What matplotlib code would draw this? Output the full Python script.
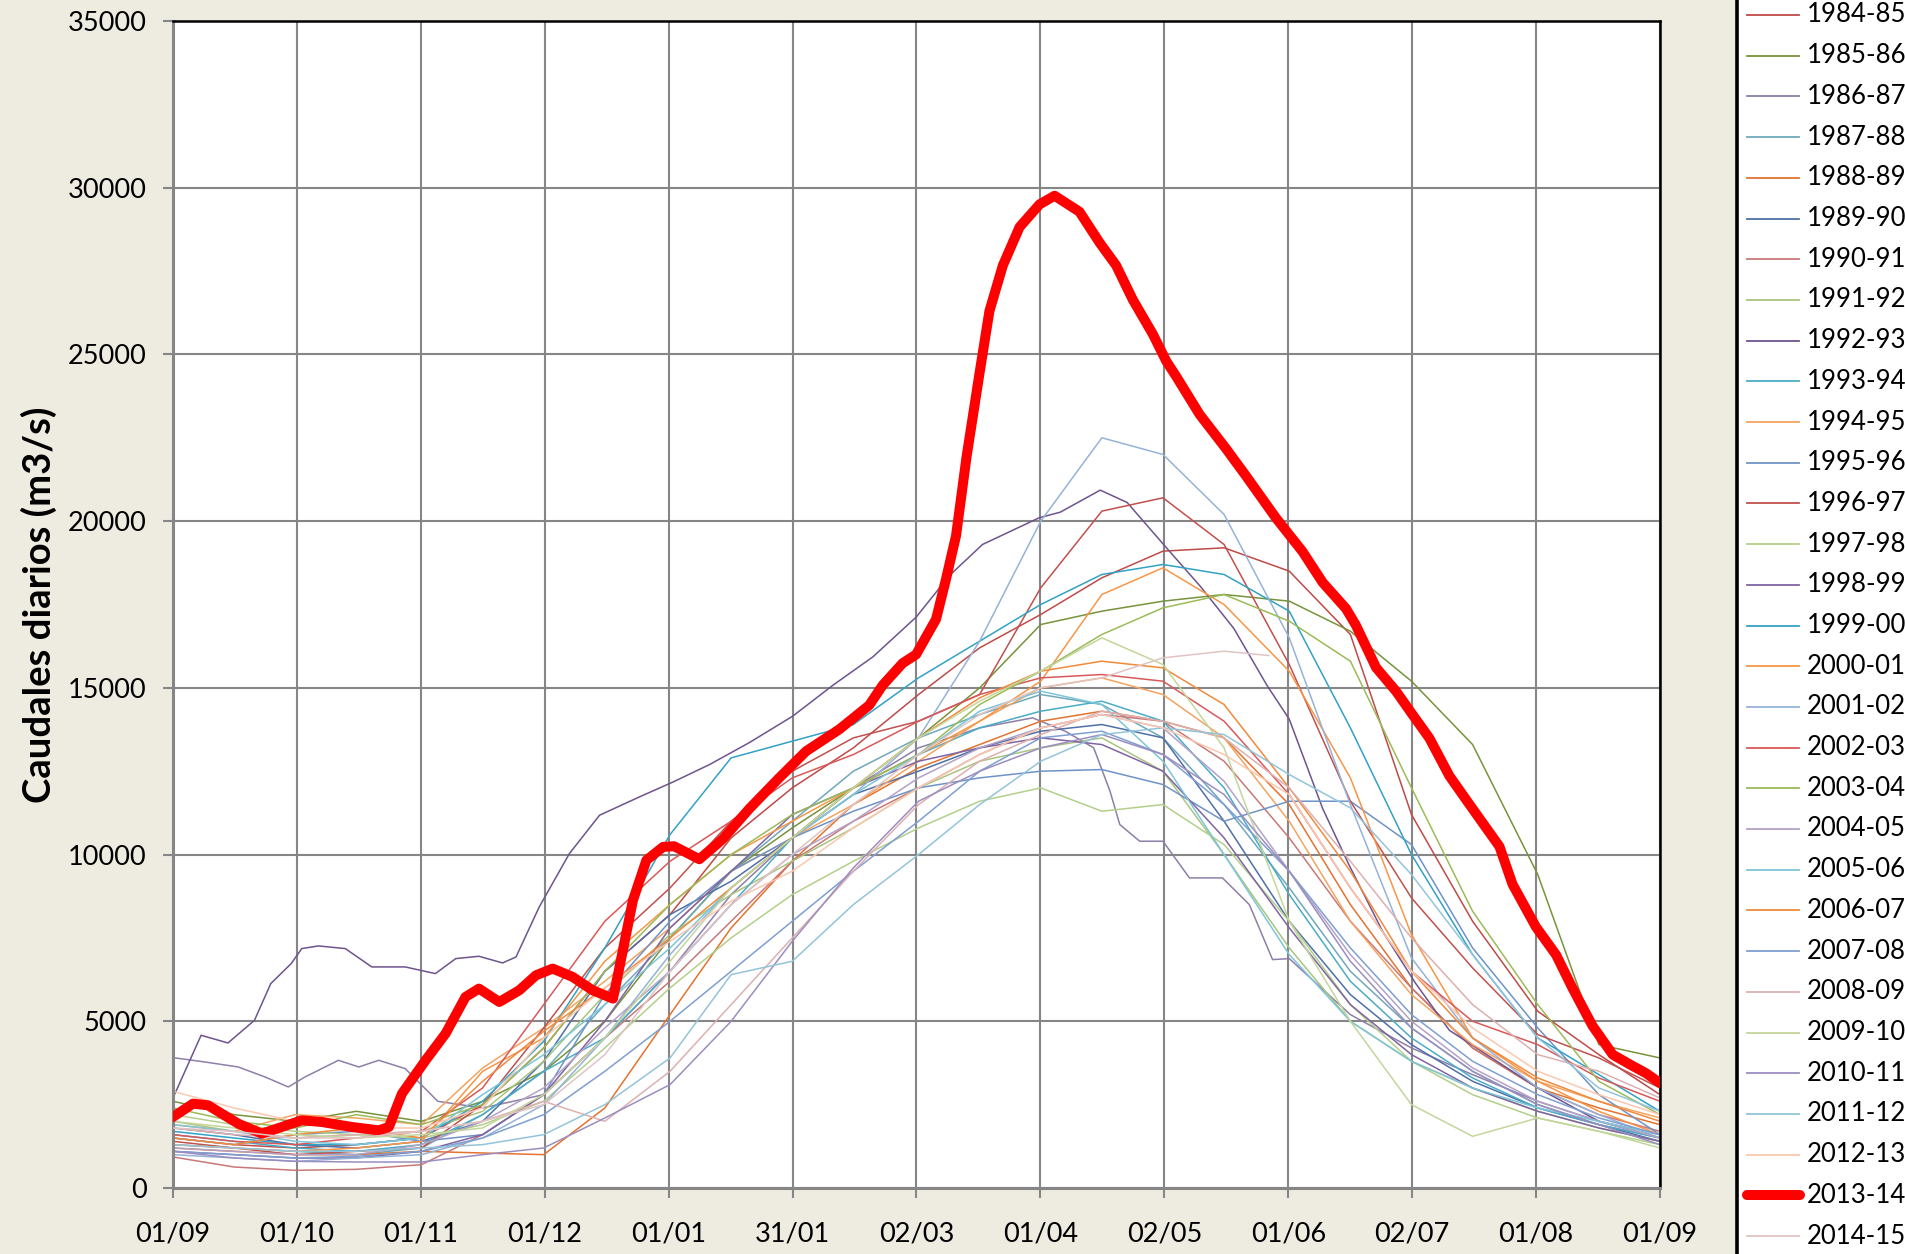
import numpy as np
import matplotlib
matplotlib.use("Agg")
import matplotlib.pyplot as plt

# Caudales diarios por año hidrológico (m3/s)
dias = [0, 15, 30, 45, 61, 76, 91, 106, 122, 137, 152, 167, 183, 198, 213, 228, 243, 258, 274, 289, 304, 319, 335, 350, 365]

q_1984_85 = [1500, 1300, 1200, 1300, 1500, 2500, 4200, 6500, 8200, 10500, 12000, 13200, 14800, 16200, 17200, 18300, 19100, 19200, 18500, 16600, 11200, 8000, 5300, 4000, 2800]
q_1985_86 = [2600, 2200, 2000, 2300, 2000, 2600, 3500, 5000, 7500, 9500, 10800, 12000, 13500, 15000, 16900, 17300, 17600, 17800, 17600, 16700, 15200, 13300, 9400, 4300, 3900]
q_1987_88 = [1300, 1200, 1100, 1000, 1200, 2200, 3500, 5500, 7500, 9500, 11000, 12500, 13500, 14200, 14800, 14500, 13500, 11500, 9000, 6500, 4800, 3500, 2500, 1900, 1500]
q_1988_89 = [1200, 1100, 1000, 1000, 1100, 1050, 1000, 2400, 5200, 7800, 9800, 11500, 12600, 13300, 14000, 14300, 14000, 13500, 11500, 8500, 6000, 4200, 3000, 2400, 1900]
q_1989_90 = [1800, 1600, 1300, 1200, 1400, 2000, 3800, 6500, 8200, 9200, 10500, 11800, 12500, 13200, 13700, 13900, 13500, 11000, 8000, 5800, 4300, 3200, 2400, 1900, 1400]
q_1990_91 = [930, 630, 530, 560, 700, 1600, 2800, 4500, 6200, 8000, 9800, 11000, 12000, 13000, 13800, 14200, 14000, 12800, 10500, 8000, 6000, 4200, 3000, 2200, 1700]
q_1991_92 = [2000, 1700, 1500, 1600, 1700, 2300, 3800, 5800, 7600, 8800, 9800, 10800, 12000, 12800, 13200, 13500, 12500, 10000, 7200, 5000, 3800, 3000, 2300, 1800, 1400]
q_1993_94 = [1600, 1400, 1200, 1100, 1300, 2200, 3500, 4500, 6500, 8500, 10500, 12000, 13000, 13800, 14300, 14600, 14000, 12000, 8800, 6200, 4500, 3300, 2400, 1900, 1500]
q_1994_95 = [1900, 1700, 2200, 2100, 1900, 3600, 4800, 6200, 7800, 9500, 10500, 11500, 12800, 14000, 15000, 15300, 14800, 13500, 11000, 8000, 5800, 4300, 3200, 2600, 2100]
q_1995_96 = [1500, 1300, 1600, 1700, 1400, 1600, 2800, 5800, 8000, 9500, 10500, 11300, 12000, 12300, 12500, 12550, 12100, 11000, 11600, 11600, 10300, 7200, 4800, 2800, 1600]
q_1996_97 = [1400, 1200, 1000, 1100, 1200, 2500, 4800, 7200, 9000, 11000, 12500, 13500, 14000, 14800, 18000, 20300, 20700, 19300, 15700, 11600, 8700, 6600, 4600, 3900, 3000]
q_1997_98 = [2200, 1900, 1700, 1600, 1500, 1900, 2600, 4200, 6000, 7500, 8800, 9800, 10800, 11600, 12000, 11300, 11500, 10300, 8000, 5500, 3800, 2800, 2100, 1700, 1300]
q_1998_99 = [1100, 1000, 900, 900, 1100, 1600, 2800, 5000, 7800, 9500, 11200, 12000, 12800, 13200, 13500, 13300, 12500, 10500, 7800, 5500, 4000, 3000, 2300, 1800, 1400]
q_1999_00 = [1700, 1500, 1300, 1300, 1500, 2600, 4400, 7200, 10600, 12900, 13400, 13900, 15300, 16400, 17500, 18400, 18700, 18400, 17300, 13800, 10000, 7000, 4500, 3400, 2300]
q_2000_01 = [1300, 1200, 1100, 1200, 1400, 3500, 4500, 6800, 8500, 10000, 11000, 12000, 13000, 14000, 15200, 17800, 18600, 17500, 15500, 12300, 7600, 4500, 3200, 2300, 1600]
q_2001_02 = [1000, 900, 800, 900, 1000, 1500, 2500, 4500, 7000, 9000, 10500, 11800, 13500, 16400, 20000, 22500, 22000, 20200, 16500, 11500, 6900, 4500, 3000, 2200, 1500]
q_2002_03 = [1600, 1400, 1300, 1500, 1700, 3000, 5500, 8000, 9800, 11000, 12300, 13000, 14000, 14800, 15300, 15400, 15200, 14000, 11800, 9000, 6500, 5000, 4300, 3300, 2600]
q_2003_04 = [2400, 2000, 1800, 2200, 1900, 2500, 4200, 6500, 8500, 10000, 11200, 12000, 13000, 14500, 15500, 16600, 17400, 17800, 17000, 15800, 12000, 8300, 5500, 3200, 2200]
q_2004_05 = [1200, 1100, 1000, 1000, 1300, 2000, 3000, 4800, 6500, 8500, 10000, 11000, 12300, 13200, 13800, 14200, 13800, 12200, 9500, 7000, 5000, 3600, 2600, 2000, 1500]
q_2005_06 = [1900, 1700, 1400, 1300, 1500, 2800, 4000, 5500, 7200, 9000, 10500, 11800, 13000, 14300, 14900, 14500, 12800, 10000, 7000, 5000, 3800, 3000, 2400, 2000, 1600]
q_2006_07 = [1500, 1300, 1600, 1800, 1500, 3200, 4700, 6000, 7500, 9000, 10500, 12000, 13500, 14700, 15500, 15800, 15600, 14500, 12000, 9500, 6500, 4500, 3300, 2600, 2000]
q_2007_08 = [1100, 1000, 900, 950, 1100, 1500, 2200, 3500, 5000, 6500, 8000, 9500, 11000, 12500, 13500, 13700, 13000, 11500, 9500, 7200, 5200, 3800, 2800, 2100, 1600]
q_2008_09 = [1800, 1600, 1500, 1600, 1700, 2000, 2600, 2000, 3500, 5500, 7500, 9500, 11500, 12800, 13600, 14300, 14000, 13500, 12000, 9800, 7500, 5500, 4000, 3500, 2700]
q_2009_10 = [2000, 1800, 1600, 1500, 1600, 1800, 2800, 4500, 6800, 9000, 10500, 12000, 13500, 14600, 15500, 16500, 15700, 13200, 8000, 5000, 2500, 1550, 2100, 1700, 1200]
q_2010_11 = [1100, 900, 800, 780, 780, 1000, 1200, 2100, 3100, 5000, 7400, 9600, 11600, 12500, 13200, 13600, 13000, 11800, 9500, 6800, 4800, 3500, 2500, 1900, 1300]
q_2011_12 = [1300, 1200, 1100, 1100, 1200, 1300, 1600, 2500, 3900, 6400, 6800, 8500, 10000, 11500, 12800, 13600, 13800, 13600, 12400, 11400, 9400, 7000, 4500, 3000, 2300]
q_2012_13 = [2900, 2400, 2000, 1800, 1800, 2400, 4500, 6000, 7400, 8600, 9500, 10800, 12000, 13000, 13800, 14200, 13800, 13000, 11800, 9000, 6500, 4800, 3500, 2800, 2200]

# series con más detalle leído (las que se salen del haz)
dias_1986_87 = [0, 7.8, 16, 22.6, 28.3, 32.4, 40.6, 45.6, 50.5, 57, 65, 76, 91, 106, 122, 137, 152, 167, 183,
                198, 211, 219, 226, 230, 232.4, 237.3, 243, 249.5, 257.6, 264.2, 269.9, 274, 289, 304, 319, 335, 350, 365]
q_1986_87 = [3910, 3780, 3630, 3330, 3030, 3330, 3830, 3630, 3830, 3580, 2600, 2400, 2800, 4500, 6500, 8800, 10500,
             12000, 13200, 13800, 14100, 13700, 13200, 11900, 10900, 10400, 10400, 9300, 9300, 8500, 6850, 6880,
             5200, 4200, 3400, 2600, 2000, 1600]

dias_1992_93 = [0, 6.9, 13.5, 20, 24, 29, 31.6, 35.7, 42.3, 48.8, 57, 64.4, 69.4, 75.1, 80.9, 84.2, 89.9, 97.3,
                104.7, 114.5, 122.8, 131.7, 141.5, 152.1, 162, 171.8, 182.4, 190.6, 198.7, 212.6, 217.8, 227.6,
                234.2, 244, 252.2, 260.4, 268.6, 274, 282.2, 288.7, 296.9, 305, 313.3, 335, 350, 365]
q_1992_93 = [2700, 4580, 4350, 5030, 6130, 6730, 7180, 7260, 7180, 6630, 6630, 6430, 6880, 6950, 6750, 6930, 8430,
             10030, 11180, 11730, 12180, 12700, 13360, 14150, 15080, 15930, 17120, 18370, 19300, 20100, 20270,
             20930, 20560, 19180, 18040, 16780, 15060, 14060, 11380, 9680, 7700, 6140, 4730, 3000, 2000, 1500]

# 2013-14: año destacado, con más puntos
dias_2013_14 = [0, 4.9, 8.6, 16, 21.8, 26.7, 31.6, 36.5, 43.9, 50.5, 53, 56.2, 62, 66.9, 71.8, 75.1, 80.1,
                85, 89.1, 93.2, 98.1, 103, 108, 109.6, 112.9, 116.2, 120.3, 123, 129.2, 134.9, 141.5, 148.8,
                155.4, 163.6, 170.9, 174.2, 179.1, 182.4, 187.3, 189.7, 192.2, 194.8, 198, 200.4, 203.7,
                207.8, 212.7, 216.4, 222.5, 227.4, 231.5, 235.6, 240.5, 243.8, 246.2, 252, 258.5, 263.3,
                270.7, 277.3, 282.2, 287.9, 290.3, 295.3, 300.2, 304.3, 308.4, 313.3, 318.2, 325.6, 328.8,
                334.5, 339.5, 343.5, 348.4, 353.4, 357.4, 361.6, 365]
q_2013_14 = [2130, 2530, 2480, 1930, 1630, 1830, 2030, 1980, 1830, 1730, 1830, 2830, 3830, 4630, 5730, 5980, 5580,
             5930, 6380, 6580, 6330, 5930, 5680, 6630, 8630, 9830, 10230, 10250, 9860, 10460, 11380, 12300,
             13100, 13760, 14480, 15080, 15740, 16000, 17060, 18240, 19560, 21940, 24460, 26300, 27670,
             28820, 29500, 29760, 29280, 28360, 27670, 26640, 25610, 24800, 24350, 23200, 22170, 21370,
             20100, 19080, 18160, 17380, 16890, 15610, 14900, 14190, 13490, 12360, 11510, 10240, 9110,
             7840, 6990, 6000, 4870, 4000, 3720, 3440, 3150]

# 2014-15: serie incompleta (termina a finales de mayo)
dias_2014_15 = dias[:18] + [269]
q_2014_15 = [1800, 1700, 1500, 1500, 1700, 2000, 2500, 4000, 6500, 8500, 10000, 11500, 13000, 14200, 15000, 15300, 15900, 16100, 15970]

etiquetas = ["1984-85", "1985-86", "1986-87", "1987-88", "1988-89", "1989-90", "1990-91", "1991-92",
             "1992-93", "1993-94", "1994-95", "1995-96", "1996-97", "1997-98", "1998-99", "1999-00",
             "2000-01", "2001-02", "2002-03", "2003-04", "2004-05", "2005-06", "2006-07", "2007-08",
             "2008-09", "2009-10", "2010-11", "2011-12", "2012-13", "2013-14", "2014-15"]
fechas = ["01/09", "01/10", "01/11", "01/12", "01/01", "31/01", "02/03", "01/04", "02/05", "01/06", "02/07", "01/08", "01/09"]

colores = ["#BE4B48", "#77933C", "#8E7FA8", "#6FA8BA", "#E3732E", "#4F6FA8", "#C87878", "#A9C47F",
           "#6E548E", "#4BACC6", "#F4A460", "#6F93C8", "#C0504D", "#B3CF8A", "#8064A2", "#31A2C4",
           "#F79646", "#95B3D7", "#D9585A", "#9BBB59", "#B3A2C7", "#7DC5D9", "#F08A3C", "#7F9FD0",
           "#DDB0B0", "#C3D69B", "#9C8DC0", "#93C4DA", "#FAC8B0", "#FF0000", "#E0C4C4"]

series = [q_1984_85, q_1985_86, q_1986_87, q_1987_88, q_1988_89, q_1989_90, q_1990_91, q_1991_92,
          q_1992_93, q_1993_94, q_1994_95, q_1995_96, q_1996_97, q_1997_98, q_1998_99, q_1999_00,
          q_2000_01, q_2001_02, q_2002_03, q_2003_04, q_2004_05, q_2005_06, q_2006_07, q_2007_08,
          q_2008_09, q_2009_10, q_2010_11, q_2011_12, q_2012_13, q_2013_14, q_2014_15]
ejes_x = [dias] * 31
ejes_x[2] = dias_1986_87
ejes_x[8] = dias_1992_93
ejes_x[29] = dias_2013_14
ejes_x[30] = dias_2014_15

plt.rcParams['font.family'] = ['Lato', 'DejaVu Sans']
fondo = "#EEECE1"
W, H = 1906, 1254
fig = plt.figure(figsize=(W / 100, H / 100), dpi=100, facecolor=fondo)

ax = fig.add_axes([173 / W, 1 - 1188 / H, (1660 - 173) / W, (1188 - 21) / H])
ax.set_facecolor("white")

for x, q, c, lab in zip(ejes_x, series, colores, etiquetas):
    if lab == "2013-14":
        ax.plot(x, q, color=c, lw=7.2, solid_capstyle="round", solid_joinstyle="round", zorder=3)
    else:
        ax.plot(x, q, color=c, lw=1.1, zorder=3 if lab == "2014-15" else 2)

ax.set_xlim(0, 365)
ax.set_ylim(0, 35000)
ax.set_xticks(np.arange(13) * 365 / 12)
ax.set_xticklabels(fechas)
ax.set_yticks(np.arange(0, 35001, 5000))
ax.grid(True, color="#868686", lw=1.5)
ax.set_axisbelow(True)
ax.tick_params(length=7, width=1.5, color="#868686", labelsize=19.5, pad=12)
ax.tick_params(axis="x", pad=17)
for s in ["left", "bottom"]:
    ax.spines[s].set_color("#868686")
    ax.spines[s].set_linewidth(2.2)
for s in ["top", "right"]:
    ax.spines[s].set_color("black")
    ax.spines[s].set_linewidth(1.8)
ax.set_ylabel("Caudales diarios (m3/s)", fontsize=27.5, fontweight="bold", labelpad=8)

# leyenda a la derecha, recortada como en el original
lax = fig.add_axes([1737 / W, 0, (W - 1737) / W, 1])
lax.set_facecolor("white")
lax.set_xlim(0, W - 1737)
lax.set_ylim(H, 0)
lax.set_xticks([])
lax.set_yticks([])
for s in ["top", "right", "bottom"]:
    lax.spines[s].set_visible(False)
lax.spines["left"].set_linewidth(2.6)
for i, (lab, c) in enumerate(zip(etiquetas, colores)):
    y = 15 + i * 40.7
    if lab == "2013-14":
        lax.plot([10, 63], [y, y], color=c, lw=7.2, solid_capstyle="round")
    else:
        lax.plot([10, 62], [y, y], color=c, lw=1.3)
    lax.text(70, y, lab, fontsize=18.5, va="center", ha="left")

fig.savefig("out.png", dpi=100, facecolor=fondo)
